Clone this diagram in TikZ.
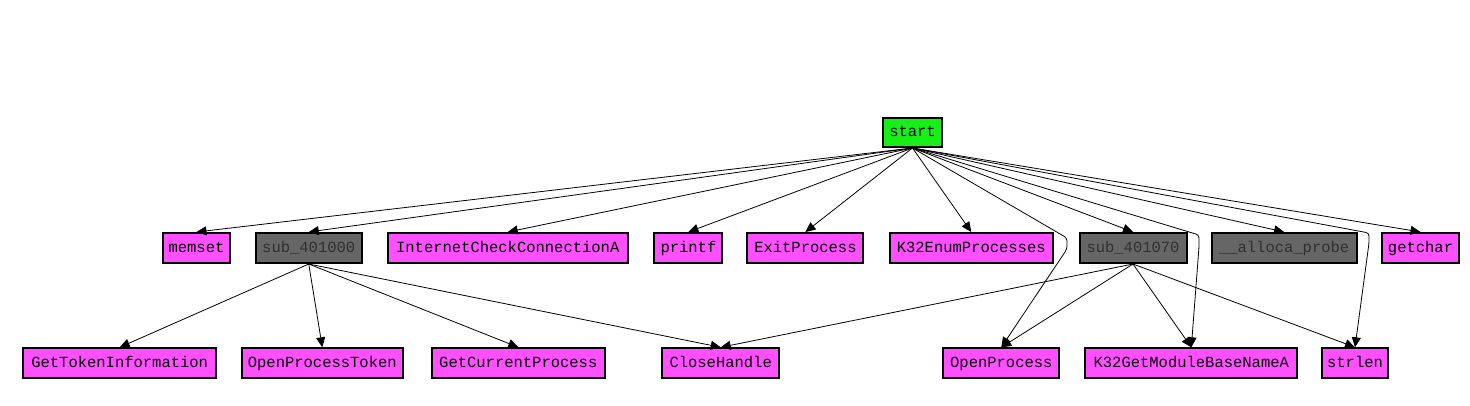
\documentclass[tikz,border=0pt]{standalone}
\usepackage{fontspec}
\newfontfamily\idafont{Liberation Mono}
\usetikzlibrary{arrows.meta}
\definecolor{startgreen}{RGB}{24,238,24}
\definecolor{funcmag}{RGB}{255,80,255}
\definecolor{subgray}{RGB}{102,102,102}
\definecolor{subtext}{RGB}{48,48,48}
\tikzset{
  fbox/.style={draw=black, line width=2pt, inner sep=0pt, minimum height=30pt,
    text height=11pt, text depth=3pt,
    font=\idafont\fontsize{15.5}{16}\selectfont, text=black, anchor=center},
  libbox/.style={fbox, fill=funcmag},
  subbox/.style={fbox, fill=subgray, text=subtext},
  startbox/.style={fbox, fill=startgreen, minimum height=29pt},
  call/.style={draw=black, line width=0.8pt, -{Triangle[length=10pt,width=9pt]}},
}
\begin{document}
\begin{tikzpicture}[x=1pt,y=-1pt]
\useasboundingbox[fill=white] (0,0) rectangle (1470,405);
% row 1
\node[startbox, minimum width=59pt] (start) at (912.5,132.5) {start};
% row 2
\node[libbox, minimum width=67pt]    (memset)  at (196.5,248) {memset};
\node[subbox, minimum width=106.5pt] (s1000)   at (308.75,248) {sub\_401000};
\node[libbox, minimum width=240.5pt] (icca)    at (507.75,248) {InternetCheckConnectionA};
\node[libbox, minimum width=68pt]    (printf)  at (688.4,248) {printf};
\node[libbox, minimum width=116pt]   (exitp)   at (805.4,248) {ExitProcess};
\node[libbox, minimum width=163.5pt] (enump)   at (971.25,248) {K32EnumProcesses};
\node[subbox, minimum width=107pt]   (s1070)   at (1133,248) {sub\_401070};
\node[subbox, minimum width=145pt]   (alloca)  at (1284.1,248) {\_\_alloca\_probe};
\node[libbox, minimum width=77.6pt]  (getchar) at (1420.5,248) {getchar};
% row 3
\node[libbox, minimum width=192.7pt] (gti)     at (119.7,363.3) {GetTokenInformation};
\node[libbox, minimum width=161.3pt] (opt)     at (322.3,363.3) {OpenProcessToken};
\node[libbox, minimum width=173.3pt] (gcp)     at (518.3,363.3) {GetCurrentProcess};
\node[libbox, minimum width=116.7pt] (closeh)  at (720.7,363.3) {CloseHandle};
\node[libbox, minimum width=116pt]   (openp)   at (1001.3,363.3) {OpenProcess};
\node[libbox, minimum width=212pt]   (gmbn)    at (1191.3,363.3) {K32GetModuleBaseNameA};
\node[libbox, minimum width=66pt]    (strlen)  at (1355,363.3) {strlen};
% bend points
\coordinate (b1a) at (1067,238);
\coordinate (b1b) at (1067,249);
\coordinate (b2a) at (1199,235);
\coordinate (b2b) at (1199,247);
\coordinate (b3a) at (1369,233);
\coordinate (b3b) at (1369,243);
% edges from start
\draw[call] (start.south) -- (memset.north);
\draw[call] (start.south) -- (s1000.north);
\draw[call] (start.south) -- (icca.north);
\draw[call] (start.south) -- (printf.north);
\draw[call] (start.south) -- (exitp.north);
\draw[call] (start.south) -- (enump.north);
\draw[call] (start.south) -- (s1070.north);
\draw[call] (start.south) -- (alloca.north);
\draw[call] (start.south) -- (getchar.north);
\draw[call, rounded corners=3pt] (start.south) -- (b1a) -- (b1b) -- (openp.north);
\draw[call, rounded corners=3pt] (start.south) -- (b2a) -- (b2b) -- (gmbn.north);
\draw[call, rounded corners=3pt] (start.south) -- (b3a) -- (b3b) -- (strlen.north);
% edges from sub_401000
\draw[call] (s1000.south) -- (gti.north);
\draw[call] (s1000.south) -- (opt.north);
\draw[call] (s1000.south) -- (gcp.north);
\draw[call] (s1000.south) -- (closeh.north);
% edges from sub_401070
\draw[call] (s1070.south) -- (closeh.north);
\draw[call] (s1070.south) -- (openp.north);
\draw[call] (s1070.south) -- (gmbn.north);
\draw[call] (s1070.south) -- (strlen.north);
\end{tikzpicture}
\end{document}
